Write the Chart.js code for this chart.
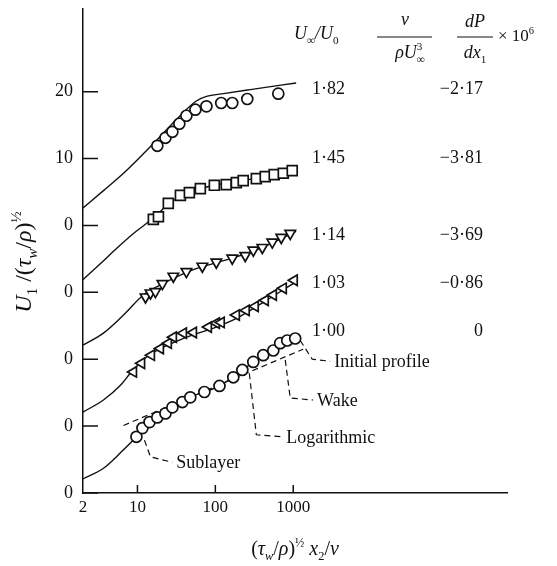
<!DOCTYPE html>
<html>
<head>
<meta charset="utf-8">
<script src="https://cdn.jsdelivr.net/npm/chart.js@4.4.1/dist/chart.umd.min.js"></script>
<style>
  html, body { margin: 0; padding: 0; background: #fff; }
  #wrap { width: 557px; height: 566px; }
</style>
</head>
<body>
<div id="wrap"><canvas id="chart"></canvas></div>
<script>
// Values. Each profile is shifted up by 10 on the y axis,
// so the tick labels restart at 0 for every curve.
const xTicks = [2, 10, 100, 1000];
const yTicks = [0, 10, 20, 30, 40, 50, 60];
const yTickLabels = ["0", "0", "0", "0", "0", "10", "20"];

// theory curves (solid), [x, y]
const line182 = [[2, 42.6], [3.66, 45.2], [6.62, 47.8], [11.9, 50.7], [17.5, 52.7], [26.5, 54.9], [38.9, 56.9], [57, 58.6], [77, 59.3], [127, 59.7], [281, 60.3], [1090, 61.3]];
const line145 = [[2, 31.9], [3.36, 34.3], [5.55, 36.7], [8.89, 38.8], [13.4, 40.4], [18.6, 41.8], [24.9, 43.2], [46.4, 44.9], [97, 46.0], [228, 46.7], [570, 47.6], [1000, 48.3]];
const line114 = [[2, 22.1], [3.66, 23.9], [6.62, 26.6], [11.9, 29.6], [19.7, 31.1], [52.3, 33.4], [165, 35.1], [401, 36.7], [1090, 39.1]];
const line103 = [[2, 12.1], [3.66, 13.9], [6.05, 16.1], [8.1, 17.9], [13, 20.3], [38.9, 23.1], [103, 24.8], [186, 26.1], [412, 28.5], [1060, 31.5]];
const line100 = [[2, 2.1], [3.66, 3.7], [6.05, 6.0], [9.7, 8.4], [14.3, 10.6], [22.9, 11.9], [47.7, 14.3], [113, 16.0], [222, 18.4], [412, 20.6], [680, 22.4], [1060, 23.1]];

// measured points
const pts182 = [[18, 51.9], [22.9, 53.1], [28.1, 54.0], [34.5, 55.2], [42.5, 56.4], [55.4, 57.3], [76.8, 57.8], [119, 58.3], [165, 58.3], [257, 58.9], [643, 59.7]];
const pts145 = [[16, 40.9], [18.6, 41.3], [24.9, 43.3], [35.6, 44.5], [46.4, 44.9], [64.2, 45.5], [97, 46.0], [138, 46.1], [186, 46.4], [228, 46.7], [336, 47.0], [437, 47.3], [570, 47.6], [745, 47.8], [971, 48.2]];
const pts114 = [[12.7, 29.3], [14.7, 29.9], [17, 30.1], [20.9, 31.3], [28.9, 32.4], [42.5, 33.1], [68.1, 33.9], [103, 34.5], [165, 35.1], [242, 35.5], [307, 36.3], [401, 36.7], [538, 37.5], [702, 38.2], [915, 38.8]];
const pts103 = [[8.89, 18.1], [11.3, 19.4], [15.1, 20.6], [19.7, 21.6], [24.9, 22.4], [28.9, 23.3], [38.9, 23.9], [52.3, 24.0], [81.3, 24.8], [103, 25.4], [119, 25.5], [186, 26.6], [249, 27.3], [325, 27.9], [437, 28.8], [555, 29.6], [745, 30.6], [1030, 31.8]];
const pts100 = [[9.7, 8.4], [11.6, 9.7], [14.3, 10.6], [18, 11.3], [22.9, 11.9], [28.1, 12.8], [37.8, 13.6], [47.7, 14.3], [72.3, 15.1], [113, 16.0], [170, 17.3], [222, 18.4], [307, 19.6], [412, 20.6], [555, 21.3], [680, 22.4], [837, 22.8], [1060, 23.1]];

// dashed log law under the 1.00 profile and the leader lines
const logLaw = [[6.62, 10.1], [1340, 21.5]];
const leadSublayer = [[12.3, 7.9], [14.7, 5.4], [28, 4.6]];
const leadLog = [[273, 17.9], [336, 8.7], [723, 8.4]];
const leadWake = [[789, 19.9], [915, 14.2], [1800, 13.9]];
const leadInitial = [[1230, 22.8], [1754, 20.0], [2980, 19.7]];
const leadNames = ["Sublayer", "Logarithmic", "Wake", "Initial profile"];

// table at the right
const ratios = ["1·82", "1·45", "1·14", "1·03", "1·00"];
const gradients = ["−2·17", "−3·81", "−3·69", "−0·86", "0"];

const ink = "#111";
const serif = '"Liberation Serif", "DejaVu Serif", serif';

const xy = arr => arr.map(p => ({ x: p[0], y: p[1] }));

function curve(arr) {
  return { data: xy(arr), borderColor: ink, borderWidth: 1.4, pointRadius: 0, fill: false,
    cubicInterpolationMode: "monotone", order: 2 };
}
function marks(arr, style, rot, r) {
  return { data: xy(arr), showLine: false, pointStyle: style, rotation: rot || 0,
    pointRadius: r || 5.5, pointBorderWidth: 1.7, pointBorderColor: ink, pointBackgroundColor: "#fff", order: 0 };
}
function dashed(arr) {
  return { data: xy(arr), borderColor: ink, borderWidth: 1.2, borderDash: [6, 4], pointRadius: 0,
    fill: false, tension: 0, order: 1 };
}

// draws a run of text pieces; flags: i = italic, b = subscript, p = superscript, z = no advance
function rich(ctx, parts, x, y, size, align) {
  const items = parts.map(([t, f = ""]) => {
    const small = f.includes("b") || f.includes("p");
    const sz = small ? size * 0.62 : size;
    const font = (f.includes("i") ? "italic " : "") + sz + "px " + serif;
    ctx.font = font;
    const dy = f.includes("b") ? size * 0.25 : f.includes("p") ? -size * 0.42 : 0;
    const w = ctx.measureText(t).width;
    return { t, font, dy, w, adv: f.includes("z") ? 0 : w };
  });
  const total = items.reduce((a, it) => a + it.adv, 0);
  let cx = align === "center" ? x - total / 2 : x;
  ctx.textAlign = "left";
  ctx.textBaseline = "alphabetic";
  items.forEach(it => { ctx.font = it.font; ctx.fillText(it.t, cx, y + it.dy); cx += it.adv; });
  return total;
}

const decorations = {
  id: "decorations",
  afterDraw(chart) {
    const { ctx, chartArea: area, scales: { x, y } } = chart;
    ctx.save();
    ctx.strokeStyle = ink;
    ctx.fillStyle = ink;
    ctx.lineWidth = 1.5;

    // tick marks point into the plot
    ctx.beginPath();
    yTicks.forEach(v => {
      const py = y.getPixelForValue(v);
      ctx.moveTo(area.left, py); ctx.lineTo(area.left + 15, py);
    });
    xTicks.slice(1).forEach(v => {
      const px = x.getPixelForValue(v);
      ctx.moveTo(px, area.bottom); ctx.lineTo(px, area.bottom - 8);
    });
    ctx.stroke();

    // header of the table
    rich(ctx, [["U", "i"], ["∞", "ib"], ["/", "i"], ["U", "i"], ["0", "b"]], 294, 39, 18);
    rich(ctx, [["ν", "i"]], 405, 25, 18, "center");
    rich(ctx, [["ρU", "i"], ["3", "pz"], ["∞", "ib"]], 410, 58, 18, "center");
    rich(ctx, [["dP", "i"]], 475, 27, 18, "center");
    rich(ctx, [["dx", "i"], ["1", "b"]], 475, 58, 18, "center");
    rich(ctx, [["× 10"], ["6", "p"]], 498, 41, 17);
    ctx.lineWidth = 1.1;
    ctx.beginPath();
    ctx.moveTo(377, 37); ctx.lineTo(432, 37);
    ctx.moveTo(457, 37); ctx.lineTo(493, 37);
    ctx.stroke();

    // table rows
    ctx.font = "18px " + serif;
    ctx.textBaseline = "middle";
    const rowY = [89, 158, 235, 283, 331];
    ratios.forEach((txt, i) => {
      ctx.textAlign = "left";
      ctx.fillText(txt, 312, rowY[i]);
      ctx.textAlign = "right";
      ctx.fillText(gradients[i], 483, rowY[i]);
    });

    // leader labels
    ctx.textAlign = "left";
    [leadSublayer, leadLog, leadWake, leadInitial].forEach((arr, i) => {
      const last = arr[arr.length - 1];
      const px = x.getPixelForValue(last[0]);
      const py = y.getPixelForValue(last[1]);
      ctx.fillText(leadNames[i], px + 4, py + 1);
    });

    // axis titles
    rich(ctx, [["("], ["τ", "i"], ["w", "ib"], ["/"], ["ρ", "i"], [")"], ["½", "p"], [" "], ["x", "i"], ["2", "b"], ["/"], ["ν", "i"]],
      (area.left + area.right) / 2, 555, 20, "center");
    ctx.translate(31, 262);
    ctx.rotate(-Math.PI / 2);
    rich(ctx, [["U", "i"], ["1", "b"], [" /("], ["τ", "i"], ["w", "ib"], ["/"], ["ρ", "i"], [")"], ["½", "p"]], 0, 0, 24, "center");
    ctx.restore();
  }
};

new Chart(document.getElementById("chart"), {
  type: "line",
  data: {
    datasets: [
      marks(pts182, "circle", 0, 5.5),
      marks(pts145, "rect", 0, 7),
      marks(pts114, "triangle", 180, 6),
      marks(pts103, "triangle", -90, 6),
      marks(pts100, "circle", 0, 5.5),
      dashed(logLaw),
      dashed(leadSublayer),
      dashed(leadLog),
      dashed(leadWake),
      dashed(leadInitial),
      curve(line182),
      curve(line145),
      curve(line114),
      curve(line103),
      curve(line100)
    ]
  },
  options: {
    responsive: true,
    maintainAspectRatio: false,
    animation: false,
    layout: { padding: { top: 8, right: 50, left: 0, bottom: 0 } },
    plugins: { legend: { display: false }, tooltip: { enabled: false } },
    scales: {
      x: {
        type: "logarithmic",
        min: 2,
        max: 5.55e5,
        afterBuildTicks: s => { s.ticks = xTicks.map(v => ({ value: v })); },
        afterFit: s => { s.height = 73; s.paddingLeft = 0; s.paddingRight = 0; },
        ticks: { callback: v => String(v), autoSkip: false, maxRotation: 0, padding: 4,
          color: ink, font: { family: serif, size: 17 } },
        grid: { display: false, drawTicks: false },
        border: { display: true, color: ink, width: 1.5 }
      },
      y: {
        min: 0,
        max: 72.4,
        afterBuildTicks: s => { s.ticks = yTicks.map(v => ({ value: v })); },
        afterFit: s => { s.width = 83; s.paddingTop = 0; s.paddingBottom = 0; },
        ticks: { callback: (v, i) => yTickLabels[i], padding: 10, color: ink, font: { family: serif, size: 18 } },
        grid: { display: false, drawTicks: false },
        border: { display: true, color: ink, width: 1.5 }
      }
    }
  },
  plugins: [decorations]
});
</script>
</body>
</html>
